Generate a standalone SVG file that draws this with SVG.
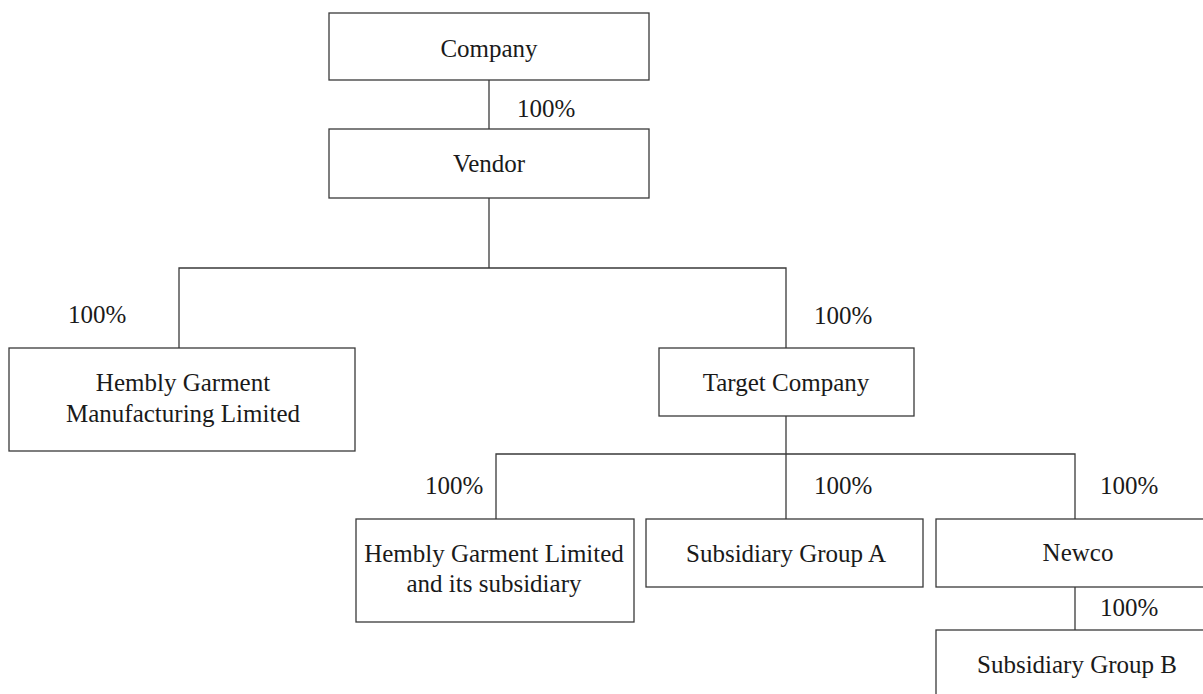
<svg xmlns="http://www.w3.org/2000/svg" width="1203" height="694" viewBox="0 0 1203 694">
<style>
.box{fill:#fff;stroke:#3a3a3a;stroke-width:1.3}
.ln{fill:none;stroke:#3a3a3a;stroke-width:1.3}
text{font-family:"Liberation Serif","Times New Roman",serif;font-size:25px;fill:#1a1a1a}
.c{text-anchor:middle}
</style>
<rect width="1203" height="694" fill="#fff"/>
<g id="connectors">
<path class="ln" d="M489 80V129"/>
<path class="ln" d="M489 198V268"/>
<path class="ln" d="M179 348V268H786V348"/>
<path class="ln" d="M786 416V454"/>
<path class="ln" d="M496 519V454H1075V519"/>
<path class="ln" d="M786 454V519"/>
<path class="ln" d="M1075 587V630"/>
<text x="517" y="117">100%</text>
<text x="68" y="323">100%</text>
<text x="814" y="324">100%</text>
<text x="425" y="494">100%</text>
<text x="814" y="494">100%</text>
<text x="1100" y="494">100%</text>
<text x="1100" y="616">100%</text>
</g>
<g id="company"><rect class="box" x="329" y="13" width="320" height="67"/><text class="c" x="489" y="57">Company</text></g>
<g id="vendor"><rect class="box" x="329" y="129" width="320" height="69"/><text class="c" x="489" y="172">Vendor</text></g>
<g id="hgml"><rect class="box" x="9" y="348" width="346" height="103"/><text class="c" x="183" y="391">Hembly Garment</text><text class="c" x="183" y="422">Manufacturing Limited</text></g>
<g id="target"><rect class="box" x="659" y="348" width="255" height="68"/><text class="c" x="786" y="391">Target Company</text></g>
<g id="hgl"><rect class="box" x="356" y="519" width="278" height="103"/><text class="c" x="494" y="562">Hembly Garment Limited</text><text class="c" x="494" y="592">and its subsidiary</text></g>
<g id="sga"><rect class="box" x="646" y="519" width="277" height="68"/><text class="c" x="786" y="562">Subsidiary Group A</text></g>
<g id="newco"><rect class="box" x="936" y="519" width="284" height="68"/><text class="c" x="1078" y="561">Newco</text></g>
<g id="sgb"><rect class="box" x="936" y="630" width="284" height="68"/><text class="c" x="1077" y="673">Subsidiary Group B</text></g>
</svg>
